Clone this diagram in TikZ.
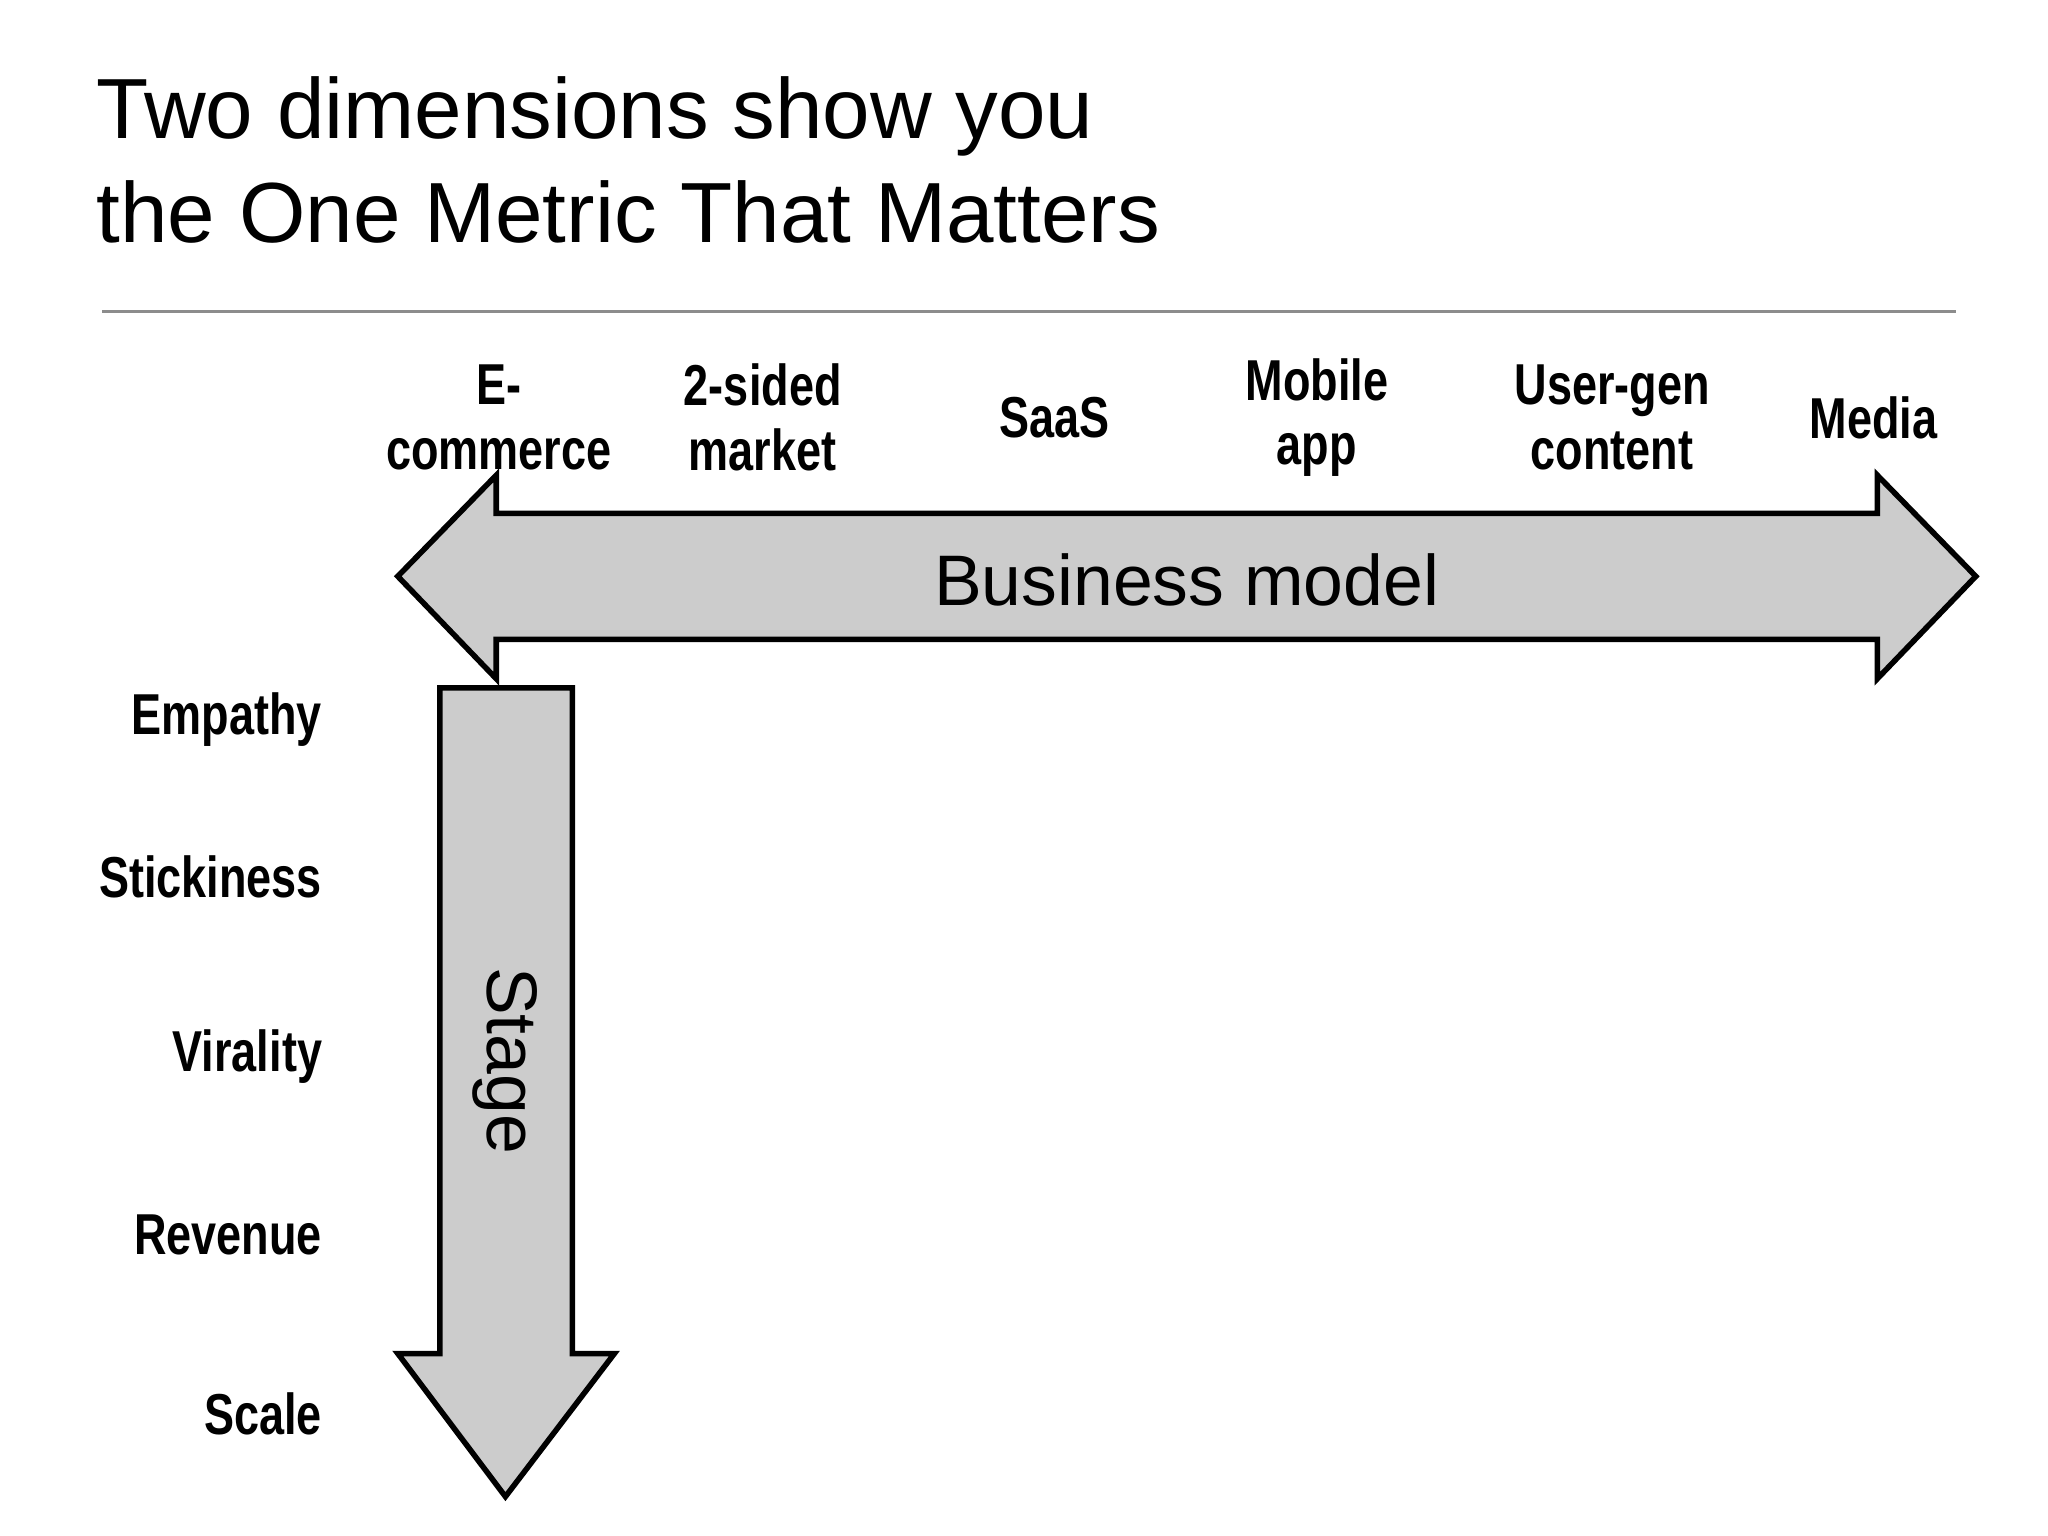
\documentclass[tikz,border=0pt]{standalone}
\usepackage{fontspec}
\setmainfont{Liberation Sans}
\newfontfamily\condb[FakeStretch=0.78]{Liberation Sans Bold}
\begin{document}
\begin{tikzpicture}[x=0.01cm,y=-0.01cm,
  lab/.style={font=\condb\fontsize{12.5}{14}\selectfont,align=center,inner sep=0pt},
  row/.style={font=\condb\fontsize{12.5}{14}\selectfont,anchor=east,inner sep=0pt},
  arr/.style={draw=black,line width=1.2pt,fill=black!20,line join=miter}]
\useasboundingbox (0,0) rectangle (1560,1170);
\node[anchor=north west,align=left,inner sep=0pt,font=\fontsize{18.5}{22.5}\selectfont] (title) at (73,58) {Two dimensions show you\\the One Metric That Matters};
\draw[black!45,line width=0.6pt] (78,237) -- (1490,237);
\draw[arr] (303,439) -- (378,362) -- (378,391) -- (1430,391) -- (1430,362) -- (1505,439) -- (1430,517) -- (1430,487) -- (378,487) -- (378,517) -- cycle;
\draw[arr] (335,524) -- (436,524) -- (436,1031) -- (468,1031) -- (385,1140) -- (303,1031) -- (335,1031) -- cycle;
\node[font=\fontsize{15.5}{18}\selectfont] (bm) at (904,442) {Business model};
\node[font=\fontsize{15.5}{18}\selectfont,rotate=-90] (st) at (385,808) {Stage};
\node[lab] (c1) at (380,318) {E-\\commerce};
\node[lab] (c2) at (581,318) {2-sided\\market};
\node[lab] (c3) at (803,318) {SaaS};
\node[lab] (c4) at (1003,318) {Mobile\\app};
\node[lab] (c5) at (1228,318) {User-gen\\content};
\node[lab] (c6) at (1427,318) {Media};
\node[row] (r1) at (246,548) {Empathy};
\node[row] (r2) at (246,668) {Stickiness};
\node[row] (r3) at (246,805) {Virality};
\node[row] (r4) at (246,941) {Revenue};
\node[row] (r5) at (246,1077) {Scale};
\end{tikzpicture}
\end{document}
